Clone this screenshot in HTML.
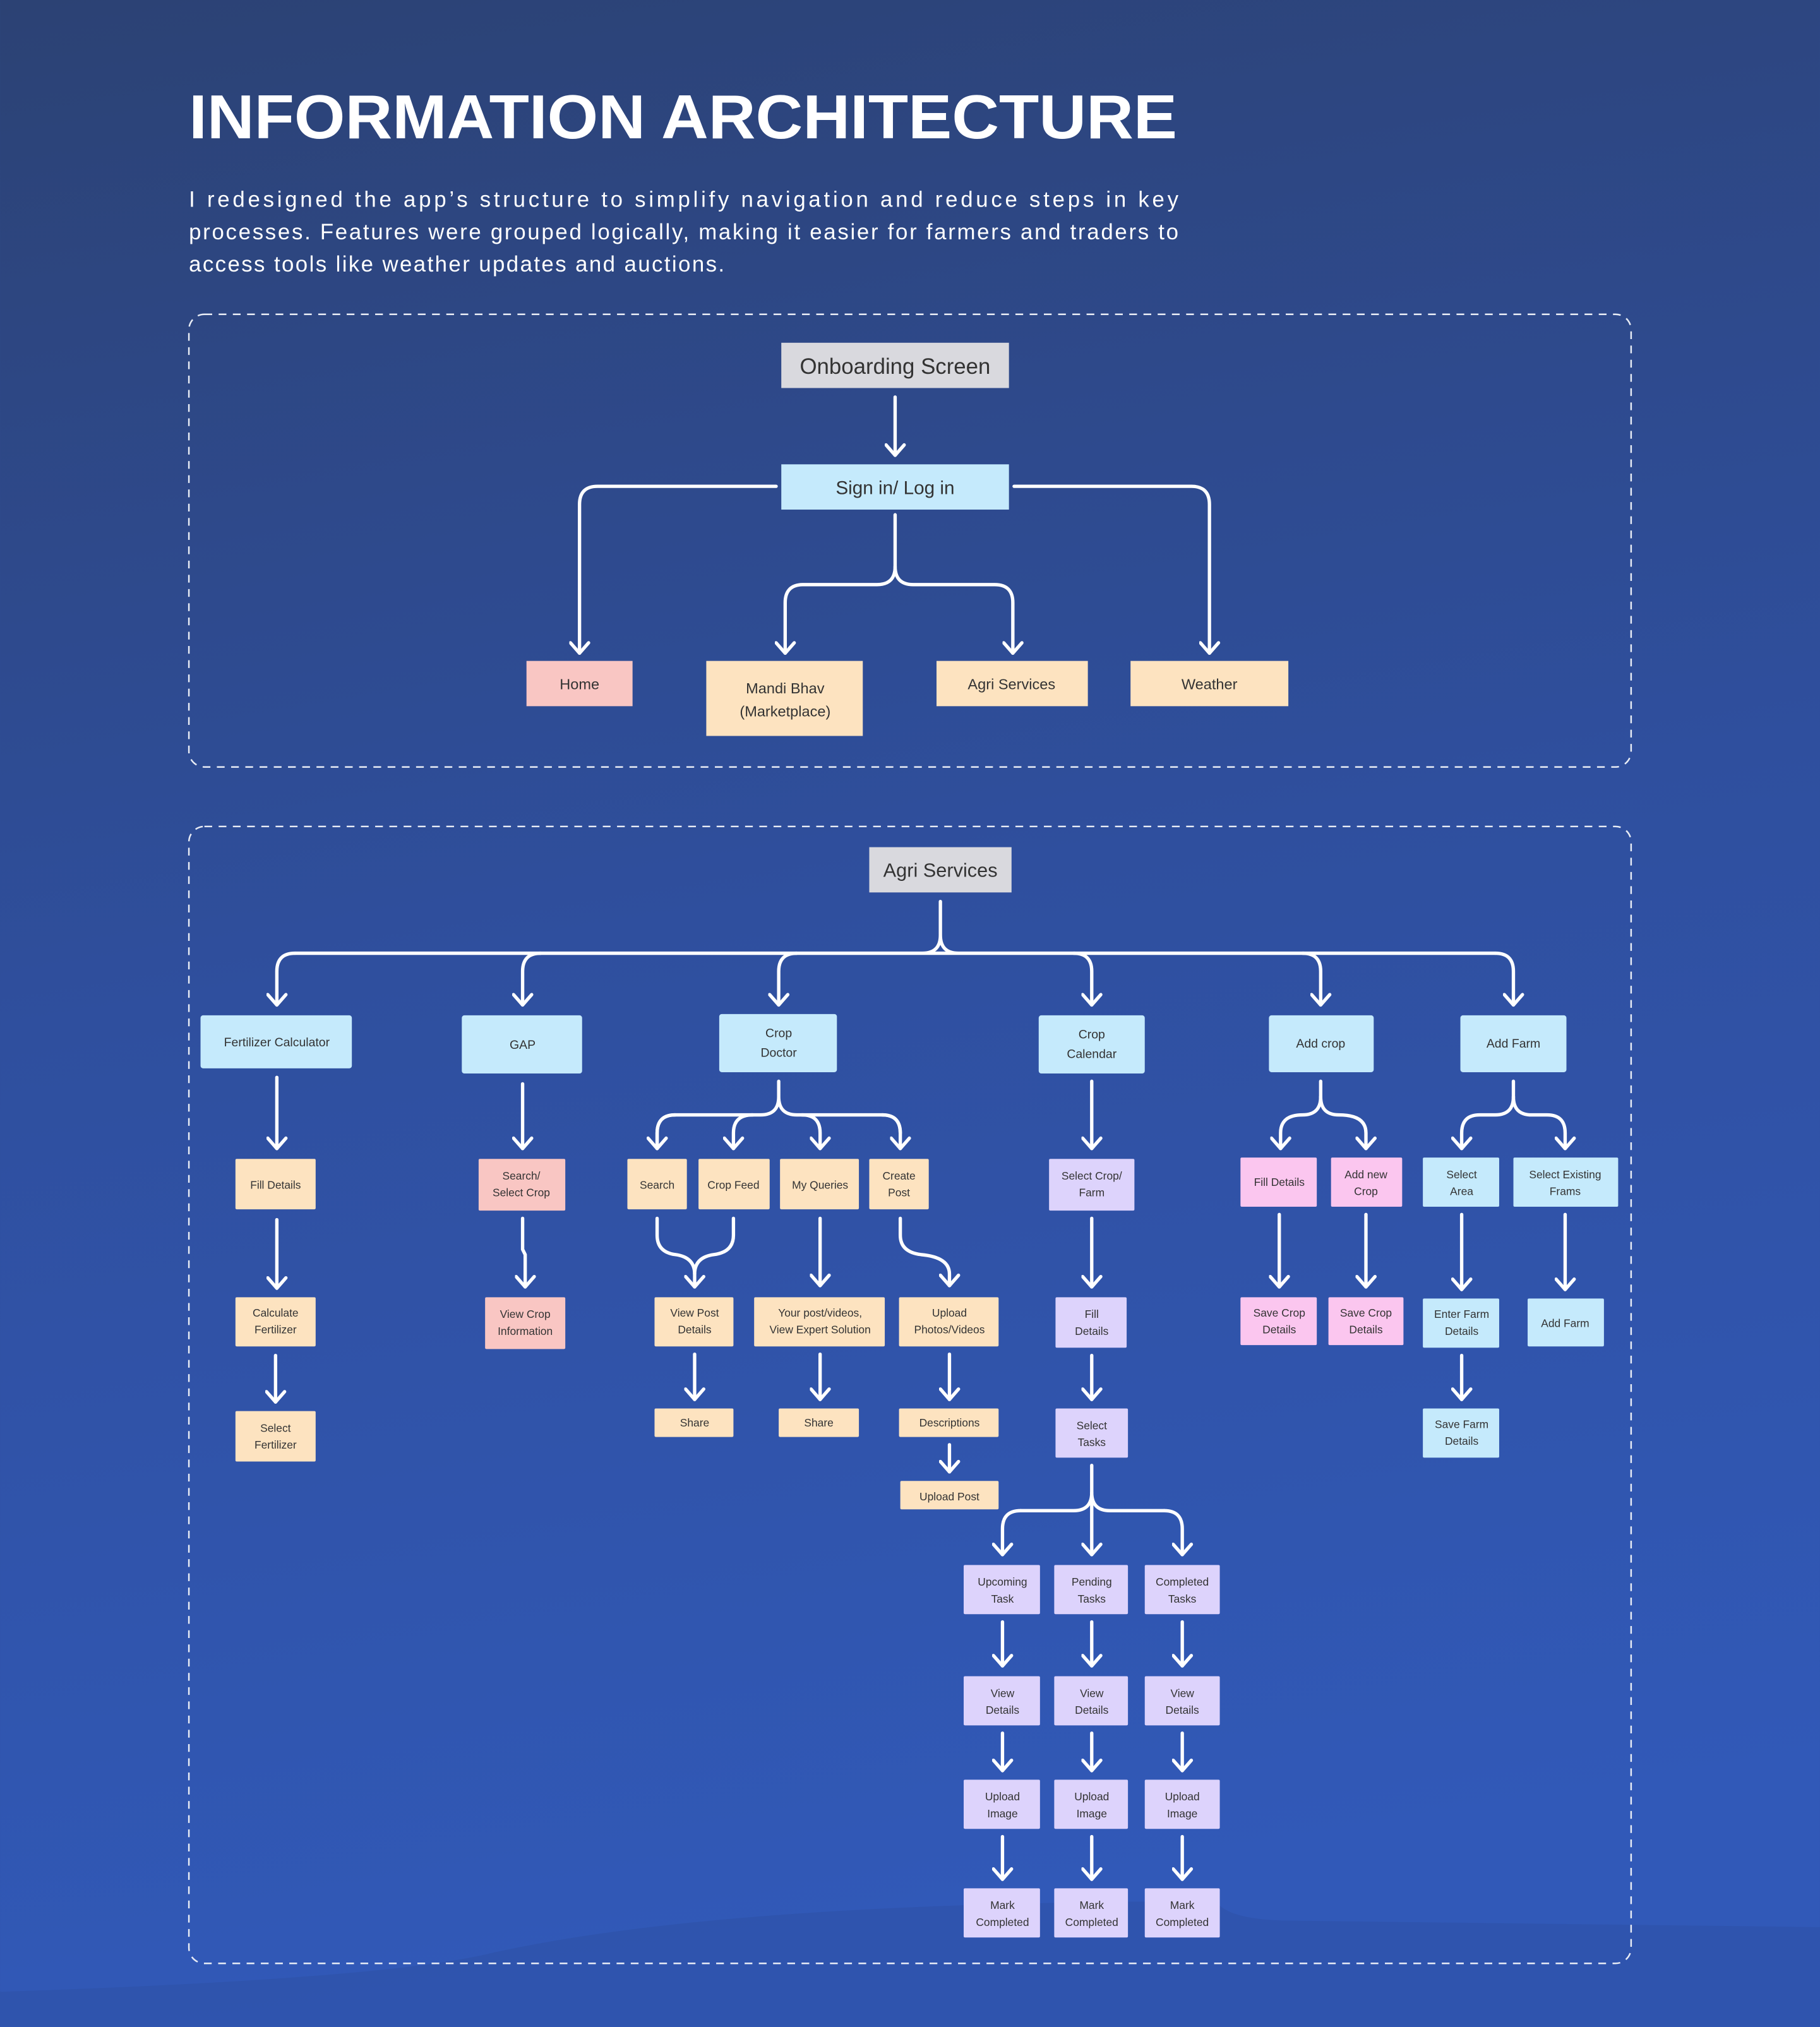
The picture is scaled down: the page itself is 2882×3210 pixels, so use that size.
<!DOCTYPE html>
<html><head><meta charset="utf-8"><style>
html,body{margin:0;padding:0;width:2882px;height:3210px;overflow:hidden;background:#2f4d99}
svg{display:block}
text{font-family:"Liberation Sans",sans-serif}
.n{fill:#333;font-size:9.5px;text-anchor:middle}
.m{fill:#333;font-size:11.5px;text-anchor:middle}
.c{fill:none;stroke:#fff;stroke-width:2.6;stroke-linecap:round;stroke-linejoin:round}
.a{marker-end:url(#ah)}
</style></head><body>
<svg width="2882" height="3210" viewBox="0 0 1407 1567.2" xmlns="http://www.w3.org/2000/svg">
<defs>
<linearGradient id="bg" x1="0" y1="0" x2="0.15" y2="1">
<stop offset="0" stop-color="#2c4274"/><stop offset="0.5" stop-color="#2f4f9e"/><stop offset="1" stop-color="#3159b8"/>
</linearGradient>
<marker id="ah" markerUnits="userSpaceOnUse" markerWidth="20" markerHeight="20" refX="0" refY="0" viewBox="-10 -12 20 20" orient="auto">
<path d="M-8,-7 L0,0 L-8,7" fill="none" stroke="#fff" stroke-width="2.6" stroke-linecap="round" stroke-linejoin="round"/>
</marker>
</defs>
<rect width="1407" height="1567.2" fill="url(#bg)"/>
<path d="M940,1470 Q950,1485 1000,1485 L1407,1490 L1407,1567 L0,1567 L0,1540 Q300,1530 380,1510 Q560,1470 940,1470Z" fill="#2f52a6" opacity="0.6"/>

<text x="146" y="107" font-size="48" font-weight="bold" fill="#fff" textLength="764" lengthAdjust="spacingAndGlyphs">INFORMATION ARCHITECTURE</text>
<text x="146" y="160" font-size="17" fill="#fff" textLength="765" lengthAdjust="spacing">I redesigned the app’s structure to simplify navigation and reduce steps in key</text>
<text x="146" y="185" font-size="17" fill="#fff" textLength="765" lengthAdjust="spacing">processes. Features were grouped logically, making it easier for farmers and traders to</text>
<text x="146" y="210" font-size="17" fill="#fff" textLength="414" lengthAdjust="spacing">access tools like weather updates and auctions.</text>

<rect x="146" y="243" width="1115" height="350" rx="12" fill="none" stroke="#e8ecf5" stroke-width="1.2" stroke-dasharray="6,5"/>
<rect x="146" y="639" width="1115" height="879" rx="12" fill="none" stroke="#e8ecf5" stroke-width="1.2" stroke-dasharray="6,5"/>

<g class="c">
<path class="a" d="M692,307 V352"/>
<path class="a" d="M600,376 H462 Q448,376 448,390 V505"/>
<path class="a" d="M784,376 H921 Q935,376 935,390 V505"/>
<path class="a" d="M692,398 V438 Q692,452 678,452 H621 Q607,452 607,466 V505"/>
<path class="a" d="M692,438 Q692,452 706,452 H769 Q783,452 783,466 V505"/>
</g>
<rect x="604" y="265" width="176" height="35" fill="#d9d9de"/>
<text x="692" y="289" font-size="17" fill="#333" text-anchor="middle">Onboarding Screen</text>
<rect x="604" y="359" width="176" height="35" fill="#c5eafc"/>
<text x="692" y="382" font-size="14.5" fill="#333" text-anchor="middle">Sign in/ Log in</text>
<rect x="407" y="511" width="82" height="35" fill="#f9c6c3"/><text class="m" x="448" y="533">Home</text>
<rect x="546" y="511" width="121" height="58" fill="#fde3c0"/><text class="m" x="607" y="536">Mandi Bhav</text><text class="m" x="607" y="554">(Marketplace)</text>
<rect x="724" y="511" width="117" height="35" fill="#fde3c0"/><text class="m" x="782" y="533">Agri Services</text>
<rect x="874" y="511" width="122" height="35" fill="#fde3c0"/><text class="m" x="935" y="533">Weather</text>

<g class="c">
<path d="M727,697 V723 Q727,737 741,737 M727,723 Q727,737 713,737 M228,737 H1156"/>
<path class="a" d="M228,737 Q214,737 214,751 V777"/>
<path class="a" d="M418,737 Q404,737 404,751 V777"/>
<path class="a" d="M616,737 Q602,737 602,751 V777"/>
<path class="a" d="M830,737 Q844,737 844,751 V777"/>
<path class="a" d="M1007,737 Q1021,737 1021,751 V777"/>
<path class="a" d="M1156,737 Q1170,737 1170,751 V777"/>
<path class="a" d="M214,833 V888"/><path class="a" d="M214,943 V996"/><path class="a" d="M213,1048 V1084"/>
<path class="a" d="M404,838 V888"/><path class="a" d="M404,942 V966 L406,970 V995"/>
<path d="M602,836 V848 Q602,862 588,862 H522 M602,848 Q602,862 616,862 H682 M522,862 Q508,862 508,876 V888 M682,862 Q696,862 696,876"/>
<path class="a" d="M522,862 Q508,862 508,876 V888"/>
<path class="a" d="M582,862 Q567,862 567,876 V888"/>
<path class="a" d="M620,862 Q634,862 634,876 V888"/>
<path class="a" d="M682,862 Q696,862 696,876 V888"/>
<path class="a" d="M508,942 V955 Q508,968 522,970 Q537,972 537,985 V995"/>
<path d="M567,942 V955 Q567,968 552,970 Q537,972 537,985"/>
<path class="a" d="M634,942 V994"/>
<path class="a" d="M696,942 V955 Q696,968 712,970 Q734,972 734,985 V994"/>
<path class="a" d="M537,1047 V1082"/><path class="a" d="M634,1047 V1082"/><path class="a" d="M734,1047 V1082"/><path class="a" d="M734,1117 V1138"/>
<path class="a" d="M844,836 V888"/><path class="a" d="M844,942 V995"/><path class="a" d="M844,1048 V1082"/>
<path d="M844,1133 V1154 Q844,1168 830,1168 H789 M844,1154 Q844,1168 858,1168 H900"/>
<path class="a" d="M789,1168 Q775,1168 775,1182 V1202"/>
<path class="a" d="M844,1154 V1202"/>
<path class="a" d="M900,1168 Q914,1168 914,1182 V1202"/>
<path class="a" d="M775,1254 V1288"/><path class="a" d="M844,1254 V1288"/><path class="a" d="M914,1254 V1288"/>
<path class="a" d="M775,1340 V1369"/><path class="a" d="M844,1340 V1369"/><path class="a" d="M914,1340 V1369"/>
<path class="a" d="M775,1420 V1453"/><path class="a" d="M844,1420 V1453"/><path class="a" d="M914,1420 V1453"/>
<path d="M1021,836 V848"/>
<path class="a" d="M1021,848 Q1021,862 1007,862 Q990,862 990,876 V888"/>
<path class="a" d="M1021,848 Q1021,862 1035,862 Q1056,862 1056,876 V888"/>
<path class="a" d="M989,939 V995"/><path class="a" d="M1056,939 V995"/>
<path d="M1170,836 V848"/>
<path class="a" d="M1170,848 Q1170,862 1156,862 H1144 Q1130,862 1130,876 V888"/>
<path class="a" d="M1170,848 Q1170,862 1184,862 H1196 Q1210,862 1210,876 V888"/>
<path class="a" d="M1130,939 V997"/><path class="a" d="M1210,939 V997"/><path class="a" d="M1130,1048 V1082"/>
</g>

<rect x="672" y="655" width="110" height="35" fill="#d9d9de"/>
<text x="727" y="678" font-size="15" fill="#333" text-anchor="middle">Agri Services</text>

<g>
<rect x="155" y="785" width="117" height="41" rx="2" fill="#c5eafc"/><text class="n" x="214" y="809" font-size="10.5">Fertilizer Calculator</text>
<rect x="357" y="785" width="93" height="45" rx="2" fill="#c5eafc"/><text class="n" x="404" y="811">GAP</text>
<rect x="556" y="784" width="91" height="45" rx="2" fill="#c5eafc"/><text class="n" x="602" y="802">Crop</text><text class="n" x="602" y="817">Doctor</text>
<rect x="803" y="785" width="82" height="45" rx="2" fill="#c5eafc"/><text class="n" x="844" y="803">Crop</text><text class="n" x="844" y="818">Calendar</text>
<rect x="981" y="785" width="81" height="44" rx="2" fill="#c5eafc"/><text class="n" x="1021" y="810">Add crop</text>
<rect x="1129" y="785" width="82" height="44" rx="2" fill="#c5eafc"/><text class="n" x="1170" y="810">Add Farm</text>
</g>
<g style="font-size:8.5px">
<rect x="182" y="896" width="62" height="39" rx="1" fill="#fde3c0"/><text class="n" x="213" y="919" style="font-size:8.5px">Fill Details</text>
<rect x="182" y="1003" width="62" height="38" rx="1" fill="#fde3c0"/><text class="n" x="213" y="1018" style="font-size:8.5px">Calculate</text><text class="n" x="213" y="1031" style="font-size:8.5px">Fertilizer</text>
<rect x="182" y="1091" width="62" height="39" rx="1" fill="#fde3c0"/><text class="n" x="213" y="1107" style="font-size:8.5px">Select</text><text class="n" x="213" y="1120" style="font-size:8.5px">Fertilizer</text>

<rect x="370" y="896" width="67" height="40" rx="1" fill="#f9c6c3"/><text class="n" x="403" y="912" style="font-size:8.5px">Search/</text><text class="n" x="403" y="925" style="font-size:8.5px">Select Crop</text>
<rect x="375" y="1003" width="62" height="40" rx="1" fill="#f9c6c3"/><text class="n" x="406" y="1019" style="font-size:8.5px">View Crop</text><text class="n" x="406" y="1032" style="font-size:8.5px">Information</text>

<rect x="485" y="896" width="46" height="39" rx="1" fill="#fde3c0"/><text class="n" x="508" y="919" style="font-size:8.5px">Search</text>
<rect x="540" y="896" width="55" height="39" rx="1" fill="#fde3c0"/><text class="n" x="567" y="919" style="font-size:8.5px">Crop Feed</text>
<rect x="603" y="896" width="61" height="39" rx="1" fill="#fde3c0"/><text class="n" x="634" y="919" style="font-size:8.5px">My Queries</text>
<rect x="672" y="896" width="46" height="39" rx="1" fill="#fde3c0"/><text class="n" x="695" y="912" style="font-size:8.5px">Create</text><text class="n" x="695" y="925" style="font-size:8.5px">Post</text>
<rect x="506" y="1003" width="61" height="38" rx="1" fill="#fde3c0"/><text class="n" x="537" y="1018" style="font-size:8.5px">View Post</text><text class="n" x="537" y="1031" style="font-size:8.5px">Details</text>
<rect x="583" y="1003" width="101" height="38" rx="1" fill="#fde3c0"/><text class="n" x="634" y="1018" style="font-size:8.5px">Your post/videos,</text><text class="n" x="634" y="1031" style="font-size:8.5px">View Expert Solution</text>
<rect x="695" y="1003" width="77" height="38" rx="1" fill="#fde3c0"/><text class="n" x="734" y="1018" style="font-size:8.5px">Upload</text><text class="n" x="734" y="1031" style="font-size:8.5px">Photos/Videos</text>
<rect x="506" y="1089" width="61" height="22" rx="1" fill="#fde3c0"/><text class="n" x="537" y="1103" style="font-size:8.5px">Share</text>
<rect x="602" y="1089" width="62" height="22" rx="1" fill="#fde3c0"/><text class="n" x="633" y="1103" style="font-size:8.5px">Share</text>
<rect x="695" y="1089" width="77" height="22" rx="1" fill="#fde3c0"/><text class="n" x="734" y="1103" style="font-size:8.5px">Descriptions</text>
<rect x="696" y="1145" width="76" height="22" rx="1" fill="#fde3c0"/><text class="n" x="734" y="1160" style="font-size:8.5px">Upload Post</text>

<rect x="811" y="896" width="66" height="40" rx="1" fill="#ddd3fc"/><text class="n" x="844" y="912" style="font-size:8.5px">Select Crop/</text><text class="n" x="844" y="925" style="font-size:8.5px">Farm</text>
<rect x="816" y="1003" width="55" height="39" rx="1" fill="#ddd3fc"/><text class="n" x="844" y="1019" style="font-size:8.5px">Fill</text><text class="n" x="844" y="1032" style="font-size:8.5px">Details</text>
<rect x="816" y="1089" width="56" height="38" rx="1" fill="#ddd3fc"/><text class="n" x="844" y="1105" style="font-size:8.5px">Select</text><text class="n" x="844" y="1118" style="font-size:8.5px">Tasks</text>

<rect x="745" y="1210" width="59" height="38" rx="1" fill="#ddd3fc"/><text class="n" x="775" y="1226" style="font-size:8.5px">Upcoming</text><text class="n" x="775" y="1239" style="font-size:8.5px">Task</text>
<rect x="815" y="1210" width="57" height="38" rx="1" fill="#ddd3fc"/><text class="n" x="844" y="1226" style="font-size:8.5px">Pending</text><text class="n" x="844" y="1239" style="font-size:8.5px">Tasks</text>
<rect x="885" y="1210" width="58" height="38" rx="1" fill="#ddd3fc"/><text class="n" x="914" y="1226" style="font-size:8.5px">Completed</text><text class="n" x="914" y="1239" style="font-size:8.5px">Tasks</text>

<rect x="745" y="1296" width="59" height="38" rx="1" fill="#ddd3fc"/><text class="n" x="775" y="1312" style="font-size:8.5px">View</text><text class="n" x="775" y="1325" style="font-size:8.5px">Details</text>
<rect x="815" y="1296" width="57" height="38" rx="1" fill="#ddd3fc"/><text class="n" x="844" y="1312" style="font-size:8.5px">View</text><text class="n" x="844" y="1325" style="font-size:8.5px">Details</text>
<rect x="885" y="1296" width="58" height="38" rx="1" fill="#ddd3fc"/><text class="n" x="914" y="1312" style="font-size:8.5px">View</text><text class="n" x="914" y="1325" style="font-size:8.5px">Details</text>

<rect x="745" y="1376" width="59" height="38" rx="1" fill="#ddd3fc"/><text class="n" x="775" y="1392" style="font-size:8.5px">Upload</text><text class="n" x="775" y="1405" style="font-size:8.5px">Image</text>
<rect x="815" y="1376" width="57" height="38" rx="1" fill="#ddd3fc"/><text class="n" x="844" y="1392" style="font-size:8.5px">Upload</text><text class="n" x="844" y="1405" style="font-size:8.5px">Image</text>
<rect x="885" y="1376" width="58" height="38" rx="1" fill="#ddd3fc"/><text class="n" x="914" y="1392" style="font-size:8.5px">Upload</text><text class="n" x="914" y="1405" style="font-size:8.5px">Image</text>

<rect x="745" y="1460" width="59" height="38" rx="1" fill="#ddd3fc"/><text class="n" x="775" y="1476" style="font-size:8.5px">Mark</text><text class="n" x="775" y="1489" style="font-size:8.5px">Completed</text>
<rect x="815" y="1460" width="57" height="38" rx="1" fill="#ddd3fc"/><text class="n" x="844" y="1476" style="font-size:8.5px">Mark</text><text class="n" x="844" y="1489" style="font-size:8.5px">Completed</text>
<rect x="885" y="1460" width="58" height="38" rx="1" fill="#ddd3fc"/><text class="n" x="914" y="1476" style="font-size:8.5px">Mark</text><text class="n" x="914" y="1489" style="font-size:8.5px">Completed</text>

<rect x="959" y="895" width="59" height="38" rx="1" fill="#fbc6ef"/><text class="n" x="989" y="917" style="font-size:8.5px">Fill Details</text>
<rect x="1029" y="895" width="55" height="38" rx="1" fill="#fbc6ef"/><text class="n" x="1056" y="911" style="font-size:8.5px">Add new</text><text class="n" x="1056" y="924" style="font-size:8.5px">Crop</text>
<rect x="959" y="1003" width="59" height="37" rx="1" fill="#fbc6ef"/><text class="n" x="989" y="1018" style="font-size:8.5px">Save Crop</text><text class="n" x="989" y="1031" style="font-size:8.5px">Details</text>
<rect x="1027" y="1003" width="58" height="37" rx="1" fill="#fbc6ef"/><text class="n" x="1056" y="1018" style="font-size:8.5px">Save Crop</text><text class="n" x="1056" y="1031" style="font-size:8.5px">Details</text>

<rect x="1100" y="895" width="59" height="38" rx="1" fill="#c5eafc"/><text class="n" x="1130" y="911" style="font-size:8.5px">Select</text><text class="n" x="1130" y="924" style="font-size:8.5px">Area</text>
<rect x="1170" y="895" width="81" height="38" rx="1" fill="#c5eafc"/><text class="n" x="1210" y="911" style="font-size:8.5px">Select Existing</text><text class="n" x="1210" y="924" style="font-size:8.5px">Frams</text>
<rect x="1100" y="1004" width="59" height="38" rx="1" fill="#c5eafc"/><text class="n" x="1130" y="1019" style="font-size:8.5px">Enter Farm</text><text class="n" x="1130" y="1032" style="font-size:8.5px">Details</text>
<rect x="1181" y="1004" width="59" height="37" rx="1" fill="#c5eafc"/><text class="n" x="1210" y="1026" style="font-size:8.5px">Add Farm</text>
<rect x="1100" y="1089" width="59" height="38" rx="1" fill="#c5eafc"/><text class="n" x="1130" y="1104" style="font-size:8.5px">Save Farm</text><text class="n" x="1130" y="1117" style="font-size:8.5px">Details</text>
</g>
</svg>
</body></html>
